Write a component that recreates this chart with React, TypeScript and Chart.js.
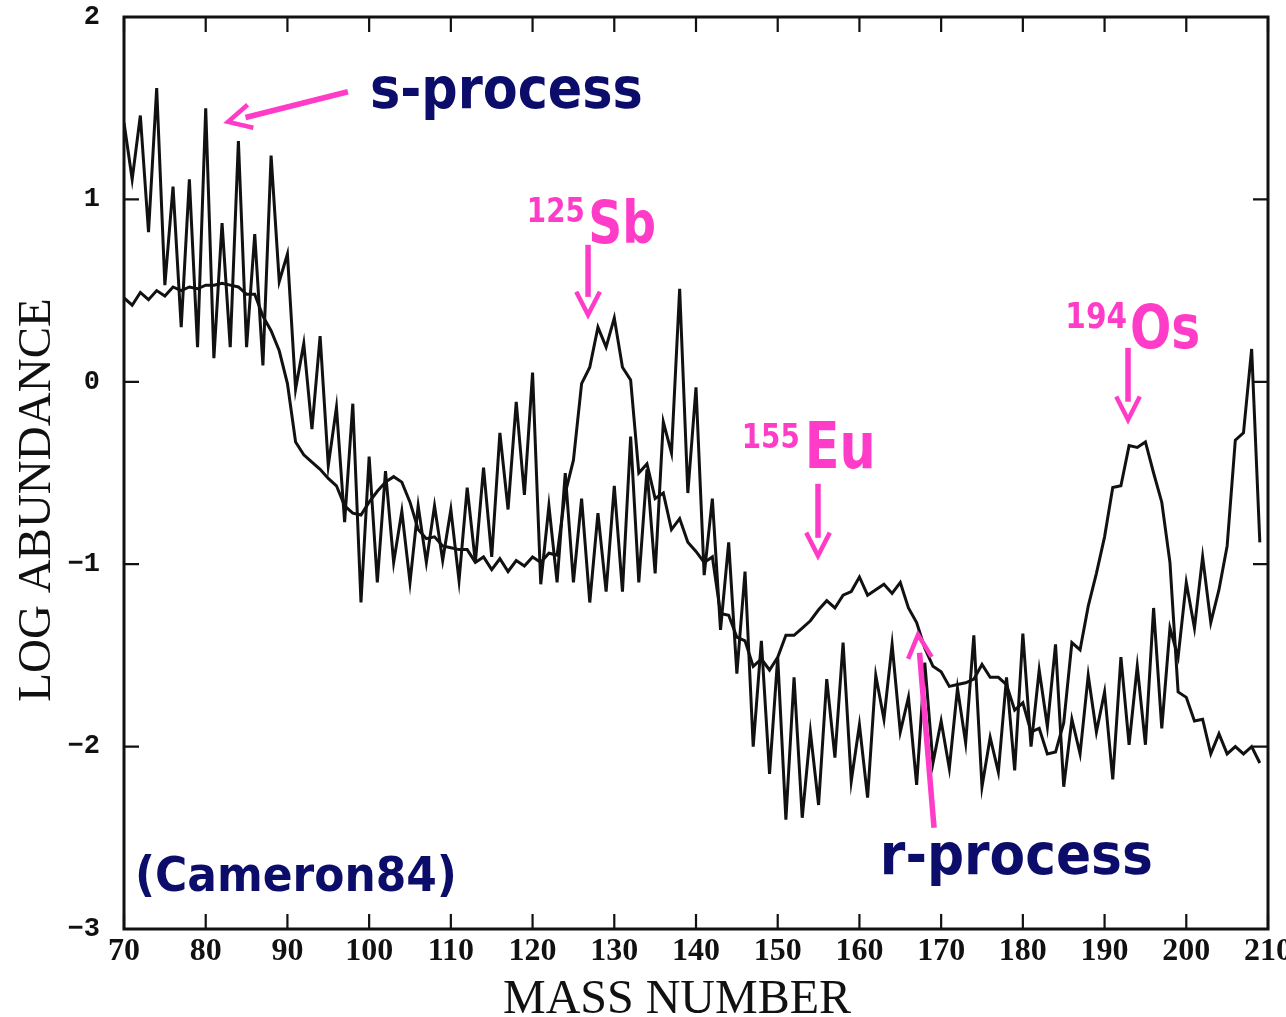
import React, { useEffect, useRef } from "react";
import { Chart, registerables } from "chart.js";

Chart.register(...registerables);

// Solar-system abundance decomposition, one value per mass number starting at A = 70
const FIRST_MASS = 70;

const sProcessLogAbundance = [
  1.42, 1.11, 1.46, 0.82, 1.61, 0.53, 1.07, 0.3, 1.11, 0.19,
  1.5, 0.13, 0.87, 0.19, 1.32, 0.19, 0.81, 0.09, 1.24, 0.55,
  0.7, -0.04, 0.21, -0.26, 0.25, -0.46, -0.14, -0.77, -0.12, -1.21,
  -0.41, -1.1, -0.49, -0.99, -0.71, -1.1, -0.68, -0.99, -0.68, -0.98,
  -0.7, -1.09, -0.58, -0.99, -0.47, -0.96, -0.28, -0.7, -0.11, -0.62,
  0.05, -1.11, -0.68, -1.1, -0.5, -1.1, -0.64, -1.21, -0.72, -1.15,
  -0.57, -1.15, -0.3, -1.1, -0.48, -1.05, -0.22, -0.39, 0.51, -0.61,
  -0.03, -1.06, -0.64, -1.36, -0.88, -1.6, -1.04, -2.0, -1.42, -2.15,
  -1.51, -2.4, -1.62, -2.39, -1.92, -2.32, -1.63, -2.06, -1.43, -2.19,
  -1.88, -2.28, -1.61, -1.85, -1.44, -1.92, -1.73, -2.21, -1.54, -2.09,
  -1.86, -2.12, -1.68, -1.98, -1.39, -2.22, -1.95, -2.14, -1.62, -2.13,
  -1.38, -2.0, -1.58, -1.89, -1.44, -2.22, -1.85, -2.04, -1.61, -1.92,
  -1.7, -2.18, -1.51, -1.99, -1.56, -1.99, -1.24, -1.9, -1.35, -1.51,
  -1.1, -1.35, -0.96, -1.32, -1.14, -0.9, -0.32, -0.28, 0.18, -0.88,
];

const rProcessLogAbundance = [
  0.46, 0.42, 0.49, 0.45, 0.5, 0.47, 0.52, 0.5, 0.52, 0.51,
  0.53, 0.53, 0.54, 0.53, 0.52, 0.48, 0.48, 0.36, 0.28, 0.17,
  -0.01, -0.33, -0.4, -0.44, -0.48, -0.53, -0.57, -0.68, -0.72, -0.73,
  -0.66, -0.6, -0.55, -0.52, -0.55, -0.66, -0.81, -0.86, -0.85, -0.9,
  -0.91, -0.92, -0.92, -0.99, -0.96, -1.03, -0.97, -1.04, -0.98, -1.01,
  -0.96, -0.99, -0.94, -0.95, -0.61, -0.43, -0.01, 0.08, 0.3, 0.19,
  0.35, 0.08, 0.01, -0.5, -0.45, -0.64, -0.61, -0.81, -0.75, -0.88,
  -0.93, -0.99, -0.96, -1.27, -1.28, -1.4, -1.42, -1.56, -1.52, -1.58,
  -1.51, -1.39, -1.39, -1.35, -1.31, -1.25, -1.2, -1.24, -1.17, -1.15,
  -1.07, -1.17, -1.14, -1.11, -1.16, -1.1, -1.24, -1.32, -1.46, -1.56,
  -1.59, -1.67, -1.66, -1.65, -1.63, -1.55, -1.62, -1.62, -1.66, -1.8,
  -1.76, -1.92, -1.9, -2.04, -2.03, -1.87, -1.43, -1.47, -1.23, -1.05,
  -0.85, -0.58, -0.57, -0.35, -0.36, -0.33, -0.5, -0.66, -0.99, -1.7,
  -1.73, -1.86, -1.85, -2.04, -1.93, -2.04, -2.0, -2.04, -2.0, -2.09,
];

const X_MIN = 70;
const X_MAX = 210;
const X_STEP = 10;
const Y_MIN = -3;
const Y_MAX = 2;
const Y_STEP = 1;

const X_TITLE = "MASS NUMBER";
const Y_TITLE = "LOG ABUNDANCE";

const PINK = "#ff3cc8";
const NAVY = "#0c0c6a";
const INK = "#111111";
const LABEL_FONT = "'DejaVu Sans Condensed', 'DejaVu Sans', sans-serif";
const SERIF = "'Liberation Serif', 'Times New Roman', serif";
const MONO = "'Liberation Mono', 'Courier New', monospace";
const TICK_LEN = 15;

// Captions: horizontal span in mass number, baseline in log abundance
const captions = [
  { text: "s-process", from: 100.1, to: 133.5, baseline: 1.5 },
  { text: "r-process", from: 162.5, to: 195.9, baseline: -2.7 },
  { text: "(Cameron84)", from: 71.35, to: 110.75, baseline: -2.79 },
];

// Isotope markers: superscript mass + element symbol
const isotopes = [
  { mass: "125", symbol: "Sb", massFrom: 119.3, massTo: 126.4, symFrom: 126.8, symTo: 135.1, massBaseline: 0.877, baseline: 0.762 },
  { mass: "155", symbol: "Eu", massFrom: 145.6, massTo: 152.7, symFrom: 153.3, symTo: 162.0, massBaseline: -0.362, baseline: -0.471 },
  { mass: "194", symbol: "Os", massFrom: 185.2, massTo: 192.75, symFrom: 193.1, symTo: 201.7, massBaseline: 0.296, baseline: 0.186 },
];

// Arrows: tip and tail in (mass number, log abundance)
const arrows = [
  { tip: [82.73, 1.425], tail: [97.4, 1.59] },
  { tip: [126.79, 0.367], tail: [126.79, 0.751] },
  { tip: [154.93, -0.954], tail: [154.93, -0.559] },
  { tip: [192.87, -0.208], tail: [192.87, 0.186] },
  { tip: [167.17, -1.387], tail: [169.13, -2.445] },
];

const toPoints = (vals: number[]) => vals.map((y, i) => ({ x: FIRST_MASS + i, y }));

function fillFitted(
  ctx: CanvasRenderingContext2D,
  text: string,
  x1: number,
  x2: number,
  baseline: number,
  font: string,
  weight: string,
  color: string,
  stretchY = 1
) {
  ctx.font = `${weight} 100px ${font}`;
  const w = ctx.measureText(text).width;
  const size = (100 * (x2 - x1)) / w;
  ctx.font = `${weight} ${size}px ${font}`;
  ctx.fillStyle = color;
  ctx.textAlign = "left";
  ctx.textBaseline = "alphabetic";
  ctx.save();
  ctx.translate(x1, baseline);
  ctx.scale(1, stretchY);
  ctx.fillText(text, 0, 0);
  ctx.restore();
}

const framePlugin = {
  id: "frame",
  afterDatasetsDraw(chart: any) {
    const { ctx, chartArea: a, scales } = chart;
    const xs = scales.x;
    const ys = scales.y;
    ctx.save();
    ctx.strokeStyle = INK;
    ctx.lineWidth = 3;
    ctx.strokeRect(a.left, a.top, a.right - a.left, a.bottom - a.top);
    ctx.lineWidth = 2.2;
    ctx.beginPath();
    for (const t of xs.ticks) {
      const px = xs.getPixelForValue(t.value);
      ctx.moveTo(px, a.bottom);
      ctx.lineTo(px, a.bottom - TICK_LEN);
      ctx.moveTo(px, a.top);
      ctx.lineTo(px, a.top + TICK_LEN);
    }
    for (const t of ys.ticks) {
      const py = ys.getPixelForValue(t.value);
      ctx.moveTo(a.left, py);
      ctx.lineTo(a.left + TICK_LEN, py);
      ctx.moveTo(a.right, py);
      ctx.lineTo(a.right - TICK_LEN, py);
    }
    ctx.stroke();
    ctx.restore();
  },
};

const annotationPlugin = {
  id: "annotations",
  afterDraw(chart: any) {
    const { ctx, chartArea: a, scales } = chart;
    const X = (v: number) => scales.x.getPixelForValue(v);
    const Y = (v: number) => scales.y.getPixelForValue(v);
    ctx.save();

    // axis titles
    ctx.fillStyle = INK;
    ctx.font = `48px ${SERIF}`;
    ctx.textAlign = "center";
    ctx.textBaseline = "alphabetic";
    const cx = (a.left + a.right) / 2;
    ctx.fillText(X_TITLE, cx - 19, a.bottom + 84);
    ctx.save();
    ctx.translate(50, (a.top + a.bottom) / 2 + 27);
    ctx.rotate(-Math.PI / 2);
    ctx.font = `47px ${SERIF}`;
    ctx.fillText(Y_TITLE, 0, 0);
    ctx.restore();

    // arrows
    ctx.strokeStyle = PINK;
    ctx.lineCap = "butt";
    ctx.lineJoin = "miter";
    for (const ar of arrows) {
      const tx = X(ar.tip[0]);
      const ty = Y(ar.tip[1]);
      const sx = X(ar.tail[0]);
      const sy = Y(ar.tail[1]);
      const len = Math.hypot(sx - tx, sy - ty);
      const ux = (sx - tx) / len;
      const uy = (sy - ty) / len;
      ctx.lineWidth = 5.5;
      ctx.beginPath();
      ctx.moveTo(tx + ux * 18, ty + uy * 18);
      ctx.lineTo(sx, sy);
      ctx.stroke();
      const ang = (27 * Math.PI) / 180;
      const armLen = 26;
      const rot = (s: number) => [
        ux * Math.cos(s * ang) - uy * Math.sin(s * ang),
        ux * Math.sin(s * ang) + uy * Math.cos(s * ang),
      ];
      const [ax, ay] = rot(1);
      const [bx, by] = rot(-1);
      ctx.lineWidth = 4.5;
      ctx.beginPath();
      ctx.moveTo(tx + ax * armLen, ty + ay * armLen);
      ctx.lineTo(tx, ty);
      ctx.lineTo(tx + bx * armLen, ty + by * armLen);
      ctx.stroke();
    }

    // captions
    for (const c of captions) {
      fillFitted(ctx, c.text, X(c.from), X(c.to), Y(c.baseline), LABEL_FONT, "bold", NAVY);
    }
    for (const iso of isotopes) {
      fillFitted(ctx, iso.mass, X(iso.massFrom), X(iso.massTo), Y(iso.massBaseline), LABEL_FONT, "bold", PINK, 1.08);
      fillFitted(ctx, iso.symbol, X(iso.symFrom), X(iso.symTo), Y(iso.baseline), LABEL_FONT, "bold", PINK, 1.12);
    }
    ctx.restore();
  },
};

export default function App() {
  const canvasRef = useRef<HTMLCanvasElement | null>(null);

  useEffect(() => {
    const canvas = canvasRef.current;
    if (!canvas) return;
    const chart = new Chart(canvas, {
      type: "line",
      data: {
        datasets: [
          {
            label: "s-process",
            data: toPoints(sProcessLogAbundance),
            borderColor: INK,
            borderWidth: 3,
            pointRadius: 0,
            tension: 0,
            fill: false,
          },
          {
            label: "r-process",
            data: toPoints(rProcessLogAbundance),
            borderColor: INK,
            borderWidth: 3,
            pointRadius: 0,
            tension: 0,
            fill: false,
          },
        ],
      },
      options: {
        responsive: false,
        animation: false,
        devicePixelRatio: 1,
        layout: { padding: { top: 17, right: 18, bottom: 0, left: 0 } },
        plugins: {
          legend: { display: false },
          tooltip: { enabled: false },
        },
        scales: {
          x: {
            type: "linear",
            min: X_MIN,
            max: X_MAX,
            ticks: {
              stepSize: X_STEP,
              autoSkip: false,
              maxRotation: 0,
              padding: 4,
              color: INK,
              font: { family: SERIF, size: 32, weight: "bold" },
            },
            grid: { display: false, drawTicks: false },
            border: { display: false },
            afterFit: (s: any) => {
              s.height = 88;
              s.paddingLeft = 0;
              s.paddingRight = 0;
            },
          },
          y: {
            type: "linear",
            min: Y_MIN,
            max: Y_MAX,
            ticks: {
              stepSize: Y_STEP,
              padding: 24,
              color: INK,
              font: { family: MONO, size: 27, weight: "bold" },
              callback: (v: any) => (Number(v) < 0 ? "\u2212" + Math.abs(Number(v)) : String(v)),
            },
            grid: { display: false, drawTicks: false },
            border: { display: false },
            afterFit: (s: any) => {
              s.width = 124;
              s.paddingTop = 0;
              s.paddingBottom = 0;
            },
          },
        },
      },
      plugins: [framePlugin, annotationPlugin],
    });
    return () => chart.destroy();
  }, []);

  return (
    <div style={{ position: "absolute", left: 0, top: 0, width: 1286, height: 1017, background: "#fff" }}>
      <canvas ref={canvasRef} width={1286} height={1017} />
    </div>
  );
}
